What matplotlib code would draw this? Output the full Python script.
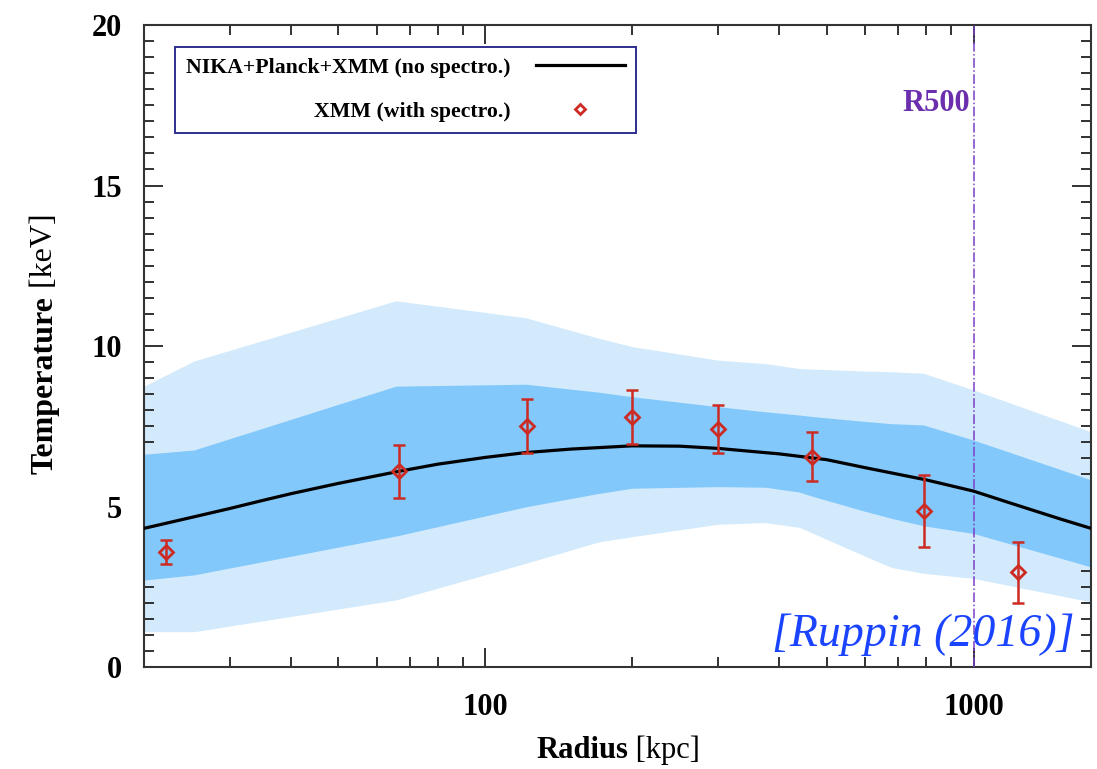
import matplotlib
matplotlib.use("Agg")
import matplotlib.pyplot as plt
from matplotlib.ticker import FixedLocator, NullFormatter, MultipleLocator

# model curve (NIKA+Planck+XMM)
curve_r = [20, 25, 30, 35, 40, 50, 66.7, 80, 100, 121, 150, 200, 250, 300, 400,
           500, 600, 800, 1000, 1200, 1500, 1740]
curve_t = [4.32, 4.66, 4.94, 5.19, 5.40, 5.72, 6.10, 6.32, 6.53, 6.68, 6.79, 6.89,
           6.88, 6.81, 6.64, 6.46, 6.21, 5.83, 5.48, 5.09, 4.62, 4.32]

# confidence bands
band_r = [20, 25.3, 65.6, 121, 171, 200, 300, 375, 440, 470, 600, 680, 790, 1000, 1740]
light_hi = [8.75, 9.53, 11.41, 10.88, 10.24, 9.98, 9.56, 9.45, 9.30, 9.28, 9.22, 9.20, 9.15, 8.63, 7.33]
light_lo = [1.10, 1.10, 2.09, 3.23, 3.90, 4.06, 4.45, 4.50, 4.35, 4.16, 3.45, 3.10, 2.92, 2.76, 2.03]
dark_hi = [6.63, 6.76, 8.75, 8.81, 8.56, 8.42, 8.11, 7.95, 7.85, 7.80, 7.65, 7.58, 7.54, 7.07, 5.83]
dark_lo = [2.71, 2.87, 4.08, 4.99, 5.41, 5.57, 5.62, 5.60, 5.45, 5.31, 4.85, 4.63, 4.40, 4.16, 3.12]

# XMM spectroscopic points
xmm_r = [22.2, 66.7, 121.7, 199.5, 300, 467, 790, 1235]
xmm_t = [3.59, 6.10, 7.51, 7.78, 7.41, 6.55, 4.87, 2.95]
xmm_err = [0.38, 0.83, 0.83, 0.84, 0.75, 0.76, 1.12, 0.94]

r500 = 1000

serif = "Liberation Serif"
plt.rcParams["font.family"] = serif

fig = plt.figure(figsize=(10.97, 7.69), dpi=100)
ax = fig.add_axes([0.1313, 0.1326, 0.8632, 0.8349])

ax.fill_between(band_r, light_lo, light_hi, color="#d2eafc", lw=0, zorder=1)
ax.fill_between(band_r, dark_lo, dark_hi, color="#82c8fa", lw=0, zorder=2)

ax.plot(curve_r, curve_t, color="black", lw=2.3, zorder=4,
        label="NIKA+Planck+XMM (no spectro.)")

red = "#cc2a22"
ax.errorbar(xmm_r, xmm_t, yerr=xmm_err, fmt="none", ecolor=red, elinewidth=1.8,
            capsize=4, capthick=1.8, zorder=5)
ax.plot(xmm_r, xmm_t, "D", ms=7.3, mfc="none", mec=red, mew=2, zorder=6,
        label="XMM (with spectro.)")

ax.axvline(r500, color="#7a3fc8", lw=1.1, ls="-.", zorder=3)
ax.text(r500 * 0.985, 17.55, "R500", color="#6b2fae", fontsize=22, fontweight="bold",
        ha="right", va="center")

ax.text(0.983, 0.017, "[Ruppin (2016)]", transform=ax.transAxes, color="#1a44ff",
        fontsize=33, style="italic", ha="right", va="bottom", zorder=7)

ax.set_xscale("log")
ax.set_xlim(20, 1740)
ax.set_ylim(0, 20)

ax.xaxis.set_major_locator(FixedLocator([100, 1000]))
ax.xaxis.set_minor_locator(FixedLocator([30, 40, 50, 60, 70, 80, 90,
                                         200, 300, 400, 500, 600, 700, 800, 900]))
ax.xaxis.set_minor_formatter(NullFormatter())
ax.set_xticklabels(["100", "1000"])
ax.yaxis.set_major_locator(MultipleLocator(5))
ax.yaxis.set_minor_locator(MultipleLocator(0.5))

ax.tick_params(which="both", direction="in", top=True, right=True, width=1.3,
               color="#222222")
ax.tick_params(which="major", length=14)
ax.tick_params(which="minor", length=7)
ax.tick_params(axis="x", which="major", pad=19, labelsize=22)
ax.tick_params(axis="y", which="major", pad=16, labelsize=22)
for lab in ax.get_xticklabels() + ax.get_yticklabels():
    lab.set_fontweight("bold")
for sp in ax.spines.values():
    sp.set_linewidth(1.5)
    sp.set_color("#333333")

# axis labels: bold word + regular unit
t1 = fig.text(0.531, 0.014, "Radius", fontsize=22, fontweight="bold", ha="center", va="baseline")
fig.canvas.draw()
ax.annotate(" [kpc]", xy=(1, 0), xycoords=t1, fontsize=22, ha="left", va="bottom",
            annotation_clip=False)
t2 = fig.text(0.041, 0.499, "Temperature", fontsize=23, fontweight="bold", rotation=90,
              ha="center", va="center")
ax.annotate(" [keV]", xy=(0.5, 1), xycoords=t2, fontsize=23, rotation=90,
            ha="center", va="bottom", annotation_clip=False)

leg = ax.legend(loc="upper left", bbox_to_anchor=(0.033, 0.966), borderaxespad=0,
                markerfirst=False, fancybox=False, handlelength=4.1, markerscale=0.7,
                prop={"family": serif, "weight": "bold", "size": 15.7},
                borderpad=0.5, labelspacing=1.08, handletextpad=1.15)
leg.get_frame().set_edgecolor("#2e2e8f")
leg.get_frame().set_linewidth(1.4)
leg.get_frame().set_alpha(1)

fig.savefig("out.png", dpi=100)
